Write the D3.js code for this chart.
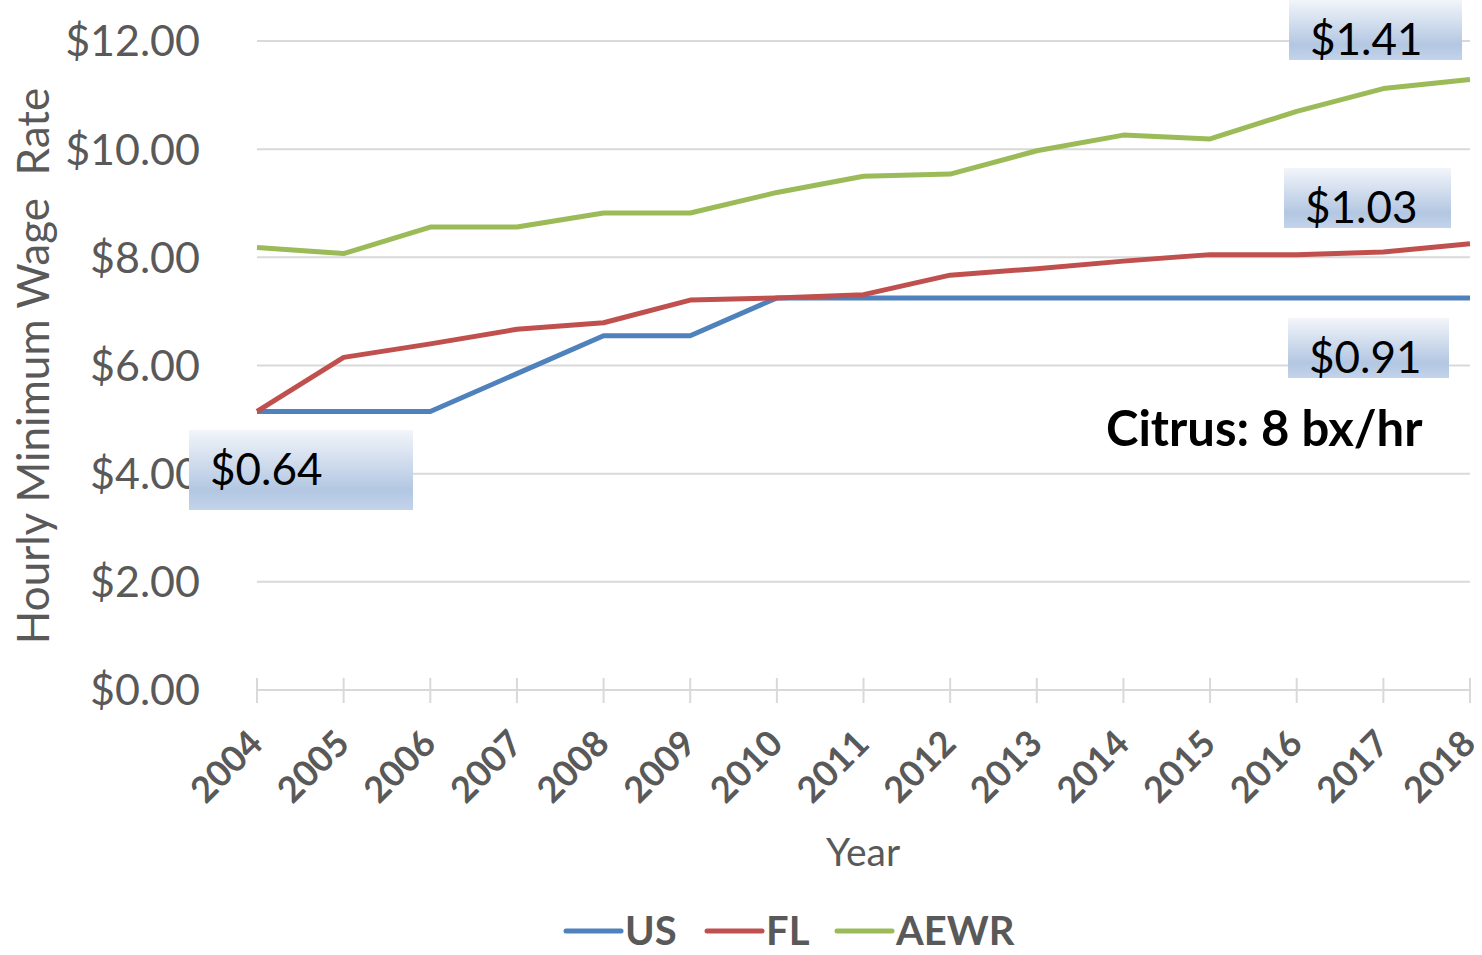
<!DOCTYPE html>
<html>
<head>
<meta charset="utf-8">
<script src="https://cdn.jsdelivr.net/npm/d3@7"></script>
<style>
  body { margin: 0; background: #fff; }
  text { font-family: Lato, "Open Sans", sans-serif; }
</style>
</head>
<body>
<div id="chart"></div>
<script>
// chart size, same as the window
const width = 1482;
const height = 955;

// data
const years = [2004, 2005, 2006, 2007, 2008, 2009, 2010, 2011, 2012, 2013, 2014, 2015, 2016, 2017, 2018];
const usWage = [5.15, 5.15, 5.15, 5.85, 6.55, 6.55, 7.25, 7.25, 7.25, 7.25, 7.25, 7.25, 7.25, 7.25, 7.25];
const flWage = [5.15, 6.15, 6.40, 6.67, 6.79, 7.21, 7.25, 7.31, 7.67, 7.79, 7.93, 8.05, 8.05, 8.10, 8.25];
const aewrWage = [8.18, 8.07, 8.56, 8.56, 8.82, 8.82, 9.20, 9.50, 9.54, 9.97, 10.26, 10.19, 10.70, 11.12, 11.29];
const seriesNames = ["US", "FL", "AEWR"];
const yTicks = [0, 2, 4, 6, 8, 10, 12];
const costPerBox = ["$1.41", "$1.03", "$0.91", "$0.64"];

// where the cost per box callouts sit (left, top, width, height)
const calloutLayout = [
  { x: 1289, y: 0, w: 173, h: 60 },
  { x: 1284, y: 168, w: 167, h: 60 },
  { x: 1288, y: 318, w: 161, h: 60 },
  { x: 189, y: 430, w: 224, h: 80 }
];

const colors = ["#4f81bd", "#c0504d", "#9bbb59"];

const svg = d3.select("#chart")
  .append("svg")
  .attr("width", width)
  .attr("height", height);

// scales
const x = d3.scaleLinear()
  .domain([2004, 2018])
  .range([257, 1470]);

const y = d3.scaleLinear()
  .domain([0, 12])
  .range([690, 41]);

// gradient for the callout boxes
const grad = svg.append("defs")
  .append("linearGradient")
  .attr("id", "boxGrad")
  .attr("x1", 0).attr("y1", 0).attr("x2", 0).attr("y2", 1);
grad.append("stop").attr("offset", "0%").attr("stop-color", "#f2f5fa");
grad.append("stop").attr("offset", "75%").attr("stop-color", "#b3c7e2");
grad.append("stop").attr("offset", "100%").attr("stop-color", "#c3d3ea");

// horizontal grid lines
svg.selectAll(".grid")
  .data(yTicks)
  .enter()
  .append("line")
  .attr("class", "grid")
  .attr("x1", x(2004))
  .attr("x2", x(2018))
  .attr("y1", d => y(d))
  .attr("y2", d => y(d))
  .attr("stroke", "#d9d9d9")
  .attr("stroke-width", 2);

// y tick labels
svg.selectAll(".ylab")
  .data(yTicks)
  .enter()
  .append("text")
  .attr("class", "ylab")
  .attr("x", 200)
  .attr("y", d => y(d))
  .attr("dy", "0.36em")
  .attr("text-anchor", "end")
  .style("font-size", "43px")
  .style("fill", "#595959")
  .text(d => "$" + d.toFixed(2));

// x axis tick marks
svg.selectAll(".xtick")
  .data(years)
  .enter()
  .append("line")
  .attr("class", "xtick")
  .attr("x1", d => x(d))
  .attr("x2", d => x(d))
  .attr("y1", 678)
  .attr("y2", 703)
  .attr("stroke", "#d9d9d9")
  .attr("stroke-width", 2);

// x tick labels, rotated
svg.selectAll(".xlab")
  .data(years)
  .enter()
  .append("text")
  .attr("class", "xlab")
  .attr("transform", d => "translate(" + (x(d) - 10) + ",728) rotate(-45)")
  .attr("text-anchor", "end")
  .attr("dy", "0.7em")
  .style("font-size", "36px")
  .style("font-weight", "bold")
  .style("fill", "#595959")
  .text(d => d);

// axis titles
svg.append("text")
  .attr("x", 863)
  .attr("y", 866)
  .attr("text-anchor", "middle")
  .style("font-size", "39px")
  .style("fill", "#595959")
  .text("Year");

svg.append("text")
  .attr("transform", "translate(49,366) rotate(-90)")
  .attr("text-anchor", "middle")
  .style("font-size", "44px")
  .style("fill", "#595959")
  .style("white-space", "pre")
  .attr("xml:space", "preserve")
  .text("Hourly Minimum Wage  Rate");

// lines
const line = d3.line()
  .x((d, i) => x(years[i]))
  .y(d => y(d));

const allSeries = [usWage, flWage, aewrWage];

svg.selectAll(".series")
  .data(allSeries)
  .enter()
  .append("path")
  .attr("class", "series")
  .attr("d", line)
  .attr("fill", "none")
  .attr("stroke", (d, i) => colors[i])
  .attr("stroke-width", 5)
  .attr("stroke-linejoin", "round");

// callout boxes
const boxes = svg.selectAll(".box")
  .data(costPerBox)
  .enter()
  .append("g")
  .attr("class", "box");

boxes.append("rect")
  .attr("x", (d, i) => calloutLayout[i].x)
  .attr("y", (d, i) => calloutLayout[i].y)
  .attr("width", (d, i) => calloutLayout[i].w)
  .attr("height", (d, i) => calloutLayout[i].h)
  .attr("fill", "url(#boxGrad)");

boxes.append("text")
  .attr("x", (d, i) => calloutLayout[i].x + 21)
  .attr("y", (d, i) => calloutLayout[i].y + 55)
  .style("font-size", "44px")
  .style("fill", "#000")
  .text(d => d);

// citrus note
svg.append("text")
  .attr("x", 1106)
  .attr("y", 446)
  .style("font-size", "49px")
  .style("font-weight", "bold")
  .style("fill", "#000")
  .text("Citrus: 8 bx/hr");

// legend at the bottom
const legendX = [566, 707, 837];
const legend = svg.selectAll(".legend")
  .data(seriesNames)
  .enter()
  .append("g")
  .attr("class", "legend")
  .attr("transform", (d, i) => "translate(" + legendX[i] + ",931)");

legend.append("line")
  .attr("x1", 0)
  .attr("x2", 55)
  .attr("stroke", (d, i) => colors[i])
  .attr("stroke-width", 5)
  .attr("stroke-linecap", "round");

legend.append("text")
  .attr("x", 59)
  .attr("dy", "0.36em")
  .style("font-size", "40px")
  .style("font-weight", "bold")
  .style("fill", "#595959")
  .text(d => d);
</script>
</body>
</html>
